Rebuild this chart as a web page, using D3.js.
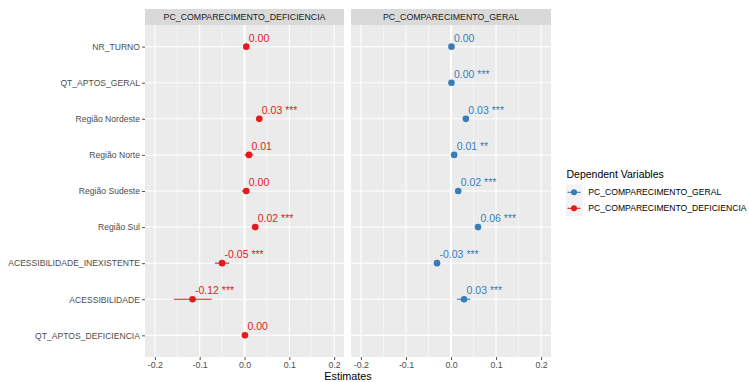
<!DOCTYPE html>
<html><head><meta charset="utf-8">
<script src="https://cdn.jsdelivr.net/npm/d3@7"></script>
<style>body{margin:0;background:#fff}svg{display:block;font-family:"Liberation Sans",Arial,sans-serif}</style>
</head><body>
<svg id="c" width="749" height="382"></svg>
<script>
const terms = ["NR_TURNO","QT_APTOS_GERAL","Região Nordeste","Região Norte","Região Sudeste","Região Sul","ACESSIBILIDADE_INEXISTENTE","ACESSIBILIDADE","QT_APTOS_DEFICIENCIA"];
const panels = ["PC_COMPARECIMENTO_DEFICIENCIA","PC_COMPARECIMENTO_GERAL"];
const xTicks = [-0.2,-0.1,0.0,0.1,0.2];
const xMinor = [-0.15,-0.05,0.05,0.15];
// PC_COMPARECIMENTO_DEFICIENCIA
const defTerms = ["NR_TURNO","Região Nordeste","Região Norte","Região Sudeste","Região Sul","ACESSIBILIDADE_INEXISTENTE","ACESSIBILIDADE","QT_APTOS_DEFICIENCIA"];
const defEst   = [0.004, 0.033, 0.010, 0.004, 0.024, -0.050, -0.116, 0.001];
const defLow   = [0.002, 0.028, 0.000, -0.006, 0.016, -0.066, -0.158, 0.000];
const defHigh  = [0.006, 0.038, 0.020, 0.010, 0.031, -0.034, -0.073, 0.002];
const defLabel = ["0.00","0.03 ***","0.01","0.00","0.02 ***","-0.05 ***","-0.12 ***","0.00"];
// PC_COMPARECIMENTO_GERAL
const gerTerms = ["NR_TURNO","QT_APTOS_GERAL","Região Nordeste","Região Norte","Região Sudeste","Região Sul","ACESSIBILIDADE_INEXISTENTE","ACESSIBILIDADE"];
const gerEst   = [0.001, 0.001, 0.033, 0.007, 0.016, 0.060, -0.031, 0.029];
const gerLow   = [0.000, 0.000, 0.030, 0.004, 0.013, 0.057, -0.034, 0.013];
const gerHigh  = [0.002, 0.002, 0.036, 0.010, 0.019, 0.063, -0.028, 0.043];
const gerLabel = ["0.00","0.00 ***","0.03 ***","0.01 **","0.02 ***","0.06 ***","-0.03 ***","0.03 ***"];
const colors = {"PC_COMPARECIMENTO_GERAL":"#377EB8","PC_COMPARECIMENTO_DEFICIENCIA":"#E41A1C"};
const legendOrder = ["PC_COMPARECIMENTO_GERAL","PC_COMPARECIMENTO_DEFICIENCIA"];

const panelData = {
  "PC_COMPARECIMENTO_DEFICIENCIA": defTerms.map((t,i)=>({t,est:defEst[i],lo:defLow[i],hi:defHigh[i],lab:defLabel[i]})),
  "PC_COMPARECIMENTO_GERAL": gerTerms.map((t,i)=>({t,est:gerEst[i],lo:gerLow[i],hi:gerHigh[i],lab:gerLabel[i]}))
};

const svg = d3.select("#c");
const pTop = 25, pBottom = 357, stripH = 16;
const panelX = [[145,344],[351,551]];
const y = d3.scalePoint().domain(terms).range([pTop, pBottom]).padding(0.6);
const axisCol = "#4D4D4D";

panels.forEach((p,pi)=>{
  const [x0,x1] = panelX[pi];
  const x = d3.scaleLinear().domain([-0.222,0.222]).range([x0,x1]);
  const g = svg.append("g");
  g.append("rect").attr("x",x0).attr("y",pTop-stripH).attr("width",x1-x0).attr("height",stripH).attr("fill","#D9D9D9");
  g.append("text").attr("x",(x0+x1)/2).attr("y",pTop-stripH/2).attr("dy","0.35em").attr("text-anchor","middle")
    .attr("font-size",8.8).attr("fill","#1A1A1A").text(p);
  g.append("rect").attr("x",x0).attr("y",pTop).attr("width",x1-x0).attr("height",pBottom-pTop).attr("fill","#EBEBEB");
  g.selectAll(".mn").data(xMinor).join("line").attr("x1",d=>x(d)).attr("x2",d=>x(d)).attr("y1",pTop).attr("y2",pBottom)
    .attr("stroke","#fff").attr("stroke-width",0.5);
  g.selectAll(".mj").data(xTicks).join("line").attr("x1",d=>x(d)).attr("x2",d=>x(d)).attr("y1",pTop).attr("y2",pBottom)
    .attr("stroke","#fff").attr("stroke-width",1.07);
  g.selectAll(".hy").data(terms).join("line").attr("x1",x0).attr("x2",x1).attr("y1",d=>y(d)).attr("y2",d=>y(d))
    .attr("stroke","#fff").attr("stroke-width",1.07);
  g.append("line").attr("x1",x(0)).attr("x2",x(0)).attr("y1",pTop).attr("y2",pBottom).attr("stroke","#fff").attr("stroke-width",2);
  const xa = g.append("g").attr("transform",`translate(0,${pBottom})`)
    .call(d3.axisBottom(x).tickValues(xTicks).tickFormat(d=>d3.format(".1f")(d).replace("−","-")).tickSize(3).tickPadding(2));
  xa.select(".domain").remove();
  xa.selectAll("line").attr("stroke","#555").attr("stroke-width",1);
  xa.selectAll("text").attr("font-size",8.8).attr("fill",axisCol).attr("font-family","Liberation Sans, Arial, sans-serif");
  const col = colors[p];
  const data = panelData[p];
  g.selectAll(".ci").data(data).join("line").attr("x1",d=>x(d.lo)).attr("x2",d=>x(d.hi)).attr("y1",d=>y(d.t)).attr("y2",d=>y(d.t))
    .attr("stroke",col).attr("stroke-width",1.1);
  g.selectAll(".pt").data(data).join("circle").attr("cx",d=>x(d.est)).attr("cy",d=>y(d.t)).attr("r",3.3).attr("fill",col);
  g.selectAll(".lb").data(data).join("text").attr("x",d=>x(d.est)+2.5).attr("y",d=>y(d.t)-5)
    .attr("font-size",10.5).attr("fill",col).text(d=>d.lab);
});

const ya = svg.append("g").attr("transform",`translate(${panelX[0][0]},0)`)
  .call(d3.axisLeft(y).tickSize(3).tickPadding(2));
ya.select(".domain").remove();
ya.selectAll("line").attr("stroke","#555");
ya.selectAll("text").attr("font-size",8.6).attr("fill",axisCol).attr("font-family","Liberation Sans, Arial, sans-serif");

svg.append("text").attr("x",(panelX[0][0]+panelX[1][1])/2).attr("y",380).attr("text-anchor","middle")
  .attr("font-size",10.8).attr("fill","#000").text("Estimates");

const lg = svg.append("g");
lg.append("text").attr("x",566.5).attr("y",174.5).attr("dy","0.35em").attr("font-size",10.5).attr("fill","#000").text("Dependent Variables");
legendOrder.forEach((s,i)=>{
  const cy = 192.3 + i*16;
  lg.append("rect").attr("x",566).attr("y",cy-8).attr("width",16.5).attr("height",16).attr("fill","#F2F2F2");
  lg.append("line").attr("x1",567.5).attr("x2",580.5).attr("y1",cy).attr("y2",cy).attr("stroke",colors[s]).attr("stroke-width",1.1);
  lg.append("circle").attr("cx",574).attr("cy",cy).attr("r",3).attr("fill",colors[s]);
  lg.append("text").attr("x",588.3).attr("y",cy).attr("dy","0.35em").attr("font-size",8.6).attr("fill","#000").text(s);
});
</script>
</body></html>
